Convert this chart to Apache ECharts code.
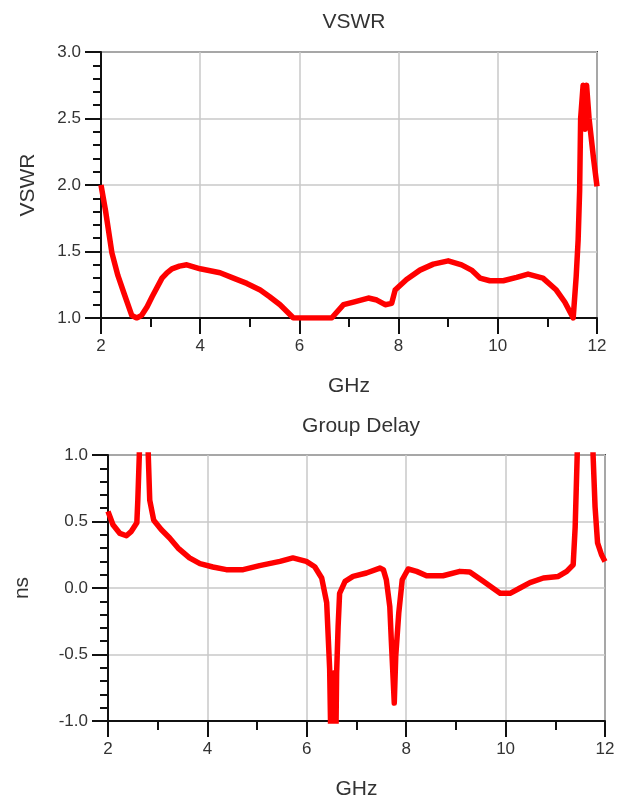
<!DOCTYPE html>
<html>
<head>
<meta charset="utf-8">
<script src="https://cdn.jsdelivr.net/npm/echarts@6/dist/echarts.min.js"></script>
<style>
  html, body { margin: 0; padding: 0; background: #fff; }
  #box { width: 621px; height: 803px; }
</style>
</head>
<body>
<div id="box"></div>
<script>
// VSWR (top panel)
var vswrFreq = [2.0, 2.09, 2.22, 2.34, 2.46, 2.62, 2.72, 2.82, 2.93, 3.03, 3.23, 3.33, 3.43, 3.58, 3.73, 4.0, 4.4, 4.67, 4.94, 5.21, 5.4, 5.61, 5.88,
  6.65, 6.89, 7.09, 7.39, 7.56, 7.73, 7.86, 7.93, 8.16, 8.43, 8.7, 9.0, 9.27, 9.47, 9.64, 9.84, 10.11, 10.38, 10.61, 10.91, 11.18,
  11.35, 11.52, 11.58, 11.62, 11.65, 11.67, 11.72, 11.76, 11.79, 11.84, 11.93, 12.0];
var vswrVal = [2.0, 1.81, 1.49, 1.32, 1.19, 1.02, 1.0, 1.02, 1.085, 1.16, 1.30, 1.34, 1.37, 1.39, 1.40, 1.37, 1.34, 1.30, 1.26, 1.21, 1.16, 1.10, 1.0,
  1.0, 1.10, 1.12, 1.15, 1.135, 1.10, 1.11, 1.21, 1.29, 1.36, 1.405, 1.43, 1.40, 1.36, 1.30, 1.28, 1.28, 1.305, 1.33, 1.30, 1.21,
  1.12, 1.0, 1.31, 1.59, 1.96, 2.50, 2.75, 2.42, 2.75, 2.50, 2.20, 1.99];

// Group delay (bottom panel), values beyond the axis range are clipped
var delayFreq = [2.0, 2.1, 2.24, 2.37, 2.47, 2.58, 2.60, 2.63, 2.72, 2.81, 2.84, 2.92, 3.07, 3.24, 3.41, 3.64, 3.85, 4.11, 4.38, 4.72,
  5.05, 5.46, 5.72, 5.99, 6.16, 6.30, 6.40, 6.46, 6.49, 6.54, 6.58, 6.60, 6.63, 6.66, 6.77, 6.93, 7.20, 7.47, 7.54, 7.60, 7.67,
  7.70, 7.76, 7.77, 7.79, 7.85, 7.92, 8.04, 8.21, 8.41, 8.74, 9.08, 9.28, 9.55, 9.89, 10.09, 10.29, 10.49, 10.76, 11.06, 11.23,
  11.36, 11.40, 11.44, 11.60, 11.76, 11.80, 11.85, 11.93, 12.0];
var delayVal = [0.576, 0.476, 0.41, 0.393, 0.426, 0.49, 0.66, 1.0, 3.0, 1.0, 0.66, 0.51, 0.44, 0.376, 0.30, 0.226, 0.183, 0.158, 0.138, 0.138,
  0.168, 0.20, 0.226, 0.20, 0.16, 0.075, -0.11, -0.61, -1.3, -0.64, -1.3, -0.64, -0.29, -0.04, 0.05, 0.087, 0.113, 0.15, 0.138, 0.062, -0.14,
  -0.39, -0.865, -0.87, -0.51, -0.19, 0.062, 0.143, 0.125, 0.092, 0.092, 0.125, 0.12, 0.05, -0.04, -0.04, 0.0, 0.04, 0.075, 0.087, 0.125,
  0.175, 0.46, 0.99, 4.0, 1.0, 0.61, 0.34, 0.25, 0.20];

var vswrTicks = [1.0, 1.5, 2.0, 2.5, 3.0];
var delayTicks = [-1.0, -0.5, 0.0, 0.5, 1.0];

function zip(xs, ys) {
  return xs.map(function (x, i) { return [x, ys[i]]; });
}

var font = 'Arial, "Liberation Sans", sans-serif';
var textColor = '#333';

function xAxisFor(gridIndex) {
  return {
    type: 'value',
    gridIndex: gridIndex,
    min: 2,
    max: 12,
    interval: 2,
    name: 'GHz',
    nameLocation: 'middle',
    nameGap: 58,
    nameTextStyle: { fontFamily: font, fontSize: 21, color: textColor },
    axisLine: { onZero: false, lineStyle: { color: '#111', width: 2 } },
    axisTick: { show: true, length: 16, lineStyle: { color: '#111', width: 2 } },
    minorTick: { show: true, splitNumber: 2, length: 9, lineStyle: { color: '#111', width: 2 } },
    axisLabel: { margin: 20, fontFamily: font, fontSize: 17, color: textColor },
    splitLine: { show: true, lineStyle: { color: '#c8c8c8', width: 1.5 } }
  };
}

function yAxisFor(gridIndex, min, max, name, gap) {
  return {
    type: 'value',
    gridIndex: gridIndex,
    min: min,
    max: max,
    interval: 0.5,
    name: name,
    nameLocation: 'middle',
    nameGap: gap,
    nameRotate: 90,
    nameTextStyle: { fontFamily: font, fontSize: 21, color: textColor },
    axisLine: { onZero: false, lineStyle: { color: '#111', width: 2 } },
    axisTick: { show: true, length: 16, lineStyle: { color: '#111', width: 2 } },
    minorTick: { show: true, splitNumber: 5, length: 8, lineStyle: { color: '#111', width: 2 } },
    axisLabel: {
      margin: 20,
      fontFamily: font,
      fontSize: 17,
      color: textColor,
      padding: [0, 0, 8, 0],
      formatter: function (v) { return v.toFixed(1); }
    },
    splitLine: { show: true, lineStyle: { color: '#c8c8c8', width: 1.5 } }
  };
}

var chart = echarts.init(document.getElementById('box'));

var option = {
  animation: false,
  backgroundColor: '#fff',
  title: [
    { text: 'VSWR', left: 349, top: 7, textAlign: 'center',
      textStyle: { fontFamily: font, fontSize: 21, fontWeight: 'normal', color: textColor } },
    { text: 'Group Delay', left: 356, top: 411, textAlign: 'center',
      textStyle: { fontFamily: font, fontSize: 21, fontWeight: 'normal', color: textColor } }
  ],
  grid: [
    { left: 101, top: 52, width: 496, height: 266, show: true, borderColor: '#444', borderWidth: 2, outerBoundsMode: 'none' },
    { left: 108, top: 455, width: 497, height: 266, show: true, borderColor: '#444', borderWidth: 2, outerBoundsMode: 'none' }
  ],
  xAxis: [xAxisFor(0), xAxisFor(1)],
  yAxis: [
    yAxisFor(0, vswrTicks[0], vswrTicks[vswrTicks.length - 1], 'VSWR', 62),
    yAxisFor(1, delayTicks[0], delayTicks[delayTicks.length - 1], 'ns', 75)
  ],
  series: [
    {
      type: 'line',
      xAxisIndex: 0,
      yAxisIndex: 0,
      data: zip(vswrFreq, vswrVal),
      showSymbol: false,
      clip: true,
      lineStyle: { color: '#ff0000', width: 5.5, join: 'round' }
    },
    {
      type: 'line',
      xAxisIndex: 1,
      yAxisIndex: 1,
      data: zip(delayFreq, delayVal),
      showSymbol: false,
      clip: true,
      lineStyle: { color: '#ff0000', width: 5.5, join: 'round' }
    }
  ]
};

chart.setOption(option);
</script>
</body>
</html>
